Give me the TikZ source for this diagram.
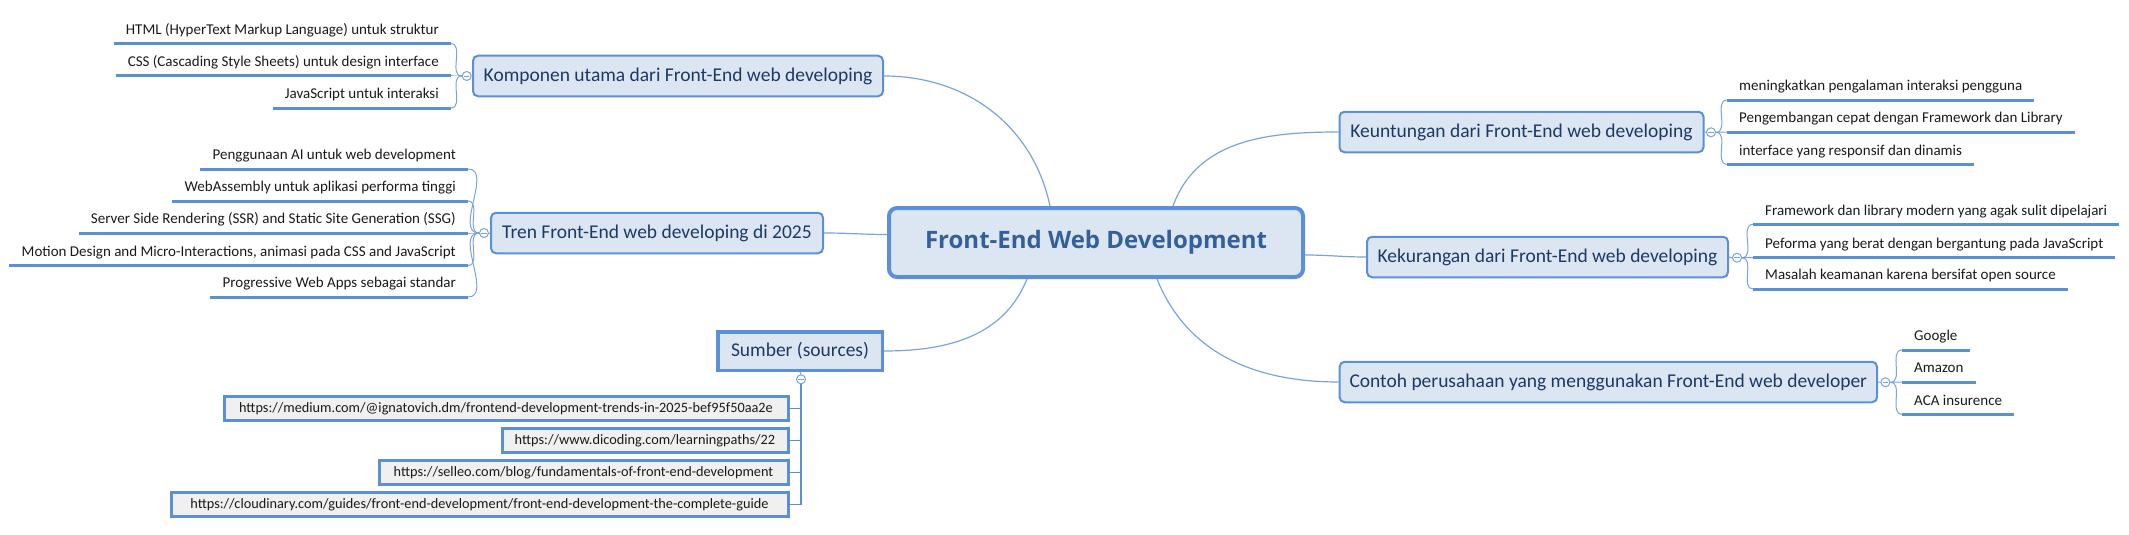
\documentclass[tikz,border=0pt]{standalone}
\usepackage{fontspec}
\setmainfont{Carlito}
\newfontfamily\rootfont{Open Sans}
\usetikzlibrary{calc}
\definecolor{bf}{HTML}{DCE6F2}
\definecolor{bd}{HTML}{5B8FD6}
\definecolor{topc}{HTML}{1C3A63}
\definecolor{rootc}{HTML}{33609B}
\definecolor{urlf}{HTML}{F0F0F0}
\definecolor{conn}{HTML}{7AA3DE}
\definecolor{ul}{HTML}{5B8FD6}
\definecolor{leafc}{HTML}{1A1A1A}
\tikzset{
  rootbox/.style={draw=bd, line width=4pt, fill=bf, rounded corners=8pt, minimum width=414pt, minimum height=69pt, inner sep=0pt, text=rootc, font=\rootfont\bfseries\fontsize{24}{28}\selectfont},
  topic/.style={draw=bd, line width=2pt, fill=bf, rounded corners=5pt, minimum height=40.5pt, inner sep=0pt, text=topc, font=\fontsize{19.5}{22}\selectfont},
  srcbox/.style={draw=bd, line width=3.5pt, fill=bf, minimum width=164.5pt, minimum height=38.5pt, inner sep=0pt, text=topc, font=\fontsize{19.5}{22}\selectfont},
  urlbox/.style={draw=bd, line width=3pt, fill=urlf, minimum height=24pt, inner sep=0pt, anchor=east, text=leafc, font=\fontsize{14.3}{16}\selectfont},
  leaf/.style={inner xsep=12pt, inner ysep=0pt, text height=10pt, text depth=9pt, text=leafc, font=\fontsize{15}{17}\selectfont},
  leafL/.style={leaf, anchor=south east},
  leafR/.style={leaf, anchor=south west},
  uline/.style={draw=ul, line width=3pt},
  colbtn/.style={circle, draw=conn, fill=white, line width=1pt, minimum size=9pt, inner sep=0pt,
    path picture={\draw[conn, line width=0.9pt] ([xshift=-2.6pt]path picture bounding box.center) -- ([xshift=2.6pt]path picture bounding box.center);}},
  brk/.style={draw=conn, line width=1pt},
  conn/.style={draw=conn, line width=1.2pt},
  srcline/.style={draw=bd, line width=1.5pt},
}
\begin{document}
\begin{tikzpicture}[x=1pt,y=-1pt]
\useasboundingbox (0,0) rectangle (2129,535);

% root
\node[rootbox] (root) at (1096,242.5) {Front-End Web Development};

% topics
\node[topic, minimum width=410pt] (komp) at (678,76) {Komponen utama dari Front-End web developing};
\node[topic, minimum width=332pt] (tren) at (657,233) {Tren Front-End web developing di 2025};
\node[srcbox] (src) at (800,351) {Sumber (sources)};
\node[topic, minimum width=364pt] (keun) at (1521.5,132) {Keuntungan dari Front-End web developing};
\node[topic, minimum width=361pt] (kek) at (1547.5,257) {Kekurangan dari Front-End web developing};
\node[topic, minimum width=537.4pt] (cont) at (1608.3,382) {Contoh perusahaan yang menggunakan Front-End web developer};

% collapse buttons
\node[colbtn] (kompc) at (466.7,76) {};
\node[colbtn] (trenc) at (484,233) {};
\node[colbtn] (srcc) at (801,379.3) {};
\node[colbtn] (keunc) at (1711,132.3) {};
\node[colbtn] (kekc) at (1737,257.7) {};
\node[colbtn] (contc) at (1885.4,382.3) {};

% root connectors
\draw[conn] ([xshift=163pt]root.north west) to[out=102,in=0] (komp.east);
\draw[conn] ([yshift=8pt]root.west) to[out=180,in=0] (tren.east);
\draw[conn] ([xshift=140pt]root.south west) to[out=-112,in=0] (src.east);
\draw[conn] ([xshift=286pt]root.north west) to[out=70,in=180] (keun.west);
\draw[conn] ([yshift=-12.5pt]root.east) to[out=0,in=180] (kek.west);
\draw[conn] ([xshift=270pt]root.south west) to[out=-68,in=180] (cont.west);

% topic to buttons
\draw[brk] (komp.west) -- (kompc.east);
\draw[brk] (tren.west) -- (trenc.east);
\draw[brk] (src.south) -- (srcc.north);
\draw[brk] (keun.east) -- (keunc.west);
\draw[brk] (kek.east) -- (kekc.west);
\draw[brk] (cont.east) -- (contc.west);

% Komponen leaves
\node[leafL] (k1) at (451,43.7) {HTML (HyperText Markup Language) untuk struktur};
\node[leafL] (k2) at (451,76) {CSS (Cascading Style Sheets) untuk design interface};
\node[leafL] (k3) at (451,108) {JavaScript untuk interaksi};
\foreach \n in {k1,k2,k3}{
  \draw[uline] (\n.south west) -- (\n.south east);
  \draw[brk] (kompc.west) to[out=180,in=0] (\n.south east);
}

% Tren leaves
\node[leafL] (t1) at (468,169) {Penggunaan AI untuk web development};
\node[leafL] (t2) at (468,201) {WebAssembly untuk aplikasi performa tinggi};
\node[leafL] (t3) at (468,233) {Server Side Rendering (SSR) and Static Site Generation (SSG)};
\node[leafL] (t4) at (468,265.5) {Motion Design and Micro-Interactions, animasi pada CSS and JavaScript};
\node[leafL] (t5) at (468,297) {Progressive Web Apps sebagai standar};
\foreach \n in {t1,t2,t3,t4,t5}{
  \draw[uline] (\n.south west) -- (\n.south east);
  \draw[brk] (trenc.west) to[out=180,in=0] (\n.south east);
}

% Keuntungan leaves
\node[leafR] (u1) at (1727,100) {meningkatkan pengalaman interaksi pengguna};
\node[leafR] (u2) at (1727,132) {Pengembangan cepat dengan Framework dan Library};
\node[leafR] (u3) at (1727,164.3) {interface yang responsif dan dinamis};
\foreach \n in {u1,u2,u3}{
  \draw[uline] (\n.south west) -- (\n.south east);
  \draw[brk] (keunc.east) to[out=0,in=180] (\n.south west);
}

% Kekurangan leaves
\node[leafR] (r1) at (1753,224.3) {Framework dan library modern yang agak sulit dipelajari};
\node[leafR] (r2) at (1753,257.5) {Peforma yang berat dengan bergantung pada JavaScript};
\node[leafR] (r3) at (1753,289) {Masalah keamanan karena bersifat open source};
\foreach \n in {r1,r2,r3}{
  \draw[uline] (\n.south west) -- (\n.south east);
  \draw[brk] (kekc.east) to[out=0,in=180] (\n.south west);
}

% Contoh leaves
\node[leafR] (c1) at (1902,350) {Google};
\node[leafR] (c2) at (1902,382) {Amazon};
\node[leafR] (c3) at (1902,414.3) {ACA insurence};
\foreach \n in {c1,c2,c3}{
  \draw[uline] (\n.south west) -- (\n.south east);
  \draw[brk] (contc.east) to[out=0,in=180] (\n.south west);
}

% Sources
\node[urlbox, minimum width=564pt] (s1) at (789.5,408.3) {https://medium.com/@ignatovich.dm/frontend-development-trends-in-2025-bef95f50aa2e};
\node[urlbox, minimum width=286pt] (s2) at (789.5,440.3) {https://www.dicoding.com/learningpaths/22};
\node[urlbox, minimum width=409pt] (s3) at (789.5,472.3) {https://selleo.com/blog/fundamentals-of-front-end-development};
\node[urlbox, minimum width=617pt] (s4) at (789.5,504.3) {https://cloudinary.com/guides/front-end-development/front-end-development-the-complete-guide};
\foreach \n in {s1,s2,s3,s4}{
  \draw[srcline] (srcc.south) |- (\n.east);
}
\end{tikzpicture}
\end{document}
